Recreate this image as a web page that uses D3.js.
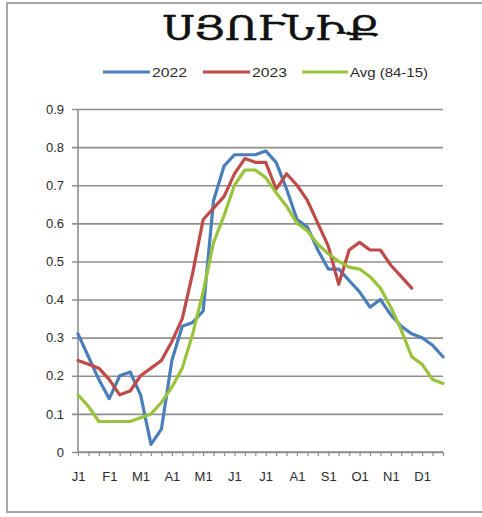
<!DOCTYPE html>
<html>
<head>
<meta charset="utf-8">
<script src="https://cdn.jsdelivr.net/npm/d3@7"></script>
<style>
  html, body { margin: 0; padding: 0; background: #fff; }
  svg { display: block; }
</style>
</head>
<body>
<svg id="chart" width="482" height="517"></svg>
<script>
// ---- data ----
const title = "ՍՅՈՒՆԻՔ";
const seriesNames = ["2022", "2023", "Avg (84-15)"];
const monthLabels = ["J1", "F1", "M1", "A1", "M1", "J1", "J1", "A1", "S1", "O1", "N1", "D1"];
const yTicks = [0, 0.1, 0.2, 0.3, 0.4, 0.5, 0.6, 0.7, 0.8, 0.9];
const values2022 = [0.31,0.25,0.19,0.14,0.20,0.21,0.15,0.02,0.06,0.24,0.33,0.34,0.37,0.66,0.75,0.78,0.78,0.78,0.79,0.76,0.69,0.61,0.59,0.53,0.48,0.48,0.45,0.42,0.38,0.40,0.36,0.33,0.31,0.30,0.28,0.25];
const values2023 = [0.24,0.23,0.22,0.19,0.15,0.16,0.20,0.22,0.24,0.29,0.35,0.47,0.61,0.64,0.67,0.73,0.77,0.76,0.76,0.69,0.73,0.70,0.66,0.60,0.54,0.44,0.53,0.55,0.53,0.53,0.49,0.46,0.43];
const valuesAvg = [0.15,0.12,0.08,0.08,0.08,0.08,0.09,0.10,0.13,0.17,0.22,0.31,0.42,0.55,0.62,0.70,0.74,0.74,0.72,0.68,0.645,0.60,0.58,0.545,0.52,0.50,0.485,0.48,0.46,0.43,0.38,0.32,0.25,0.23,0.19,0.18];
const colors = ["#4a7ebb", "#be4b48", "#98c33a"];

// ---- layout ----
const svg = d3.select("#chart");
const W = 482, H = 517;
const plot = { left: 78, right: 443, top: 109, bottom: 452 };
const nPeriods = values2022.length;

svg.append("rect").attr("width", W).attr("height", H).attr("fill", "#fff");

// outer frame (top, left, bottom)
const frame = svg.append("g").attr("stroke", "#a6a6a6").attr("stroke-width", 2).attr("fill", "none");
frame.append("path").attr("d", `M${W},3 H7 V512 H${W}`);

const x = d3.scaleLinear().domain([0, nPeriods - 1]).range([plot.left, plot.right]);
const y = d3.scaleLinear().domain([0, 0.9]).range([plot.bottom, plot.top]);

const labelFont = "Liberation Sans, Arial, sans-serif";

// gridlines + y axis
const yAxis = d3.axisLeft(y).tickValues(yTicks)
  .tickFormat(d => d === 0 ? "0" : d3.format(".1f")(d))
  .tickSize(-(plot.right - plot.left)).tickPadding(14);
const gy = svg.append("g").attr("transform", `translate(${plot.left},0)`).call(yAxis);
gy.select(".domain").remove();
gy.selectAll(".tick line").attr("stroke", "#8f8f8f").attr("stroke-width", 1.6).attr("x1", -6);
gy.selectAll(".tick text").attr("fill", "#2a2a2a").style("font-family", labelFont).style("font-size", "13px");
svg.append("line").attr("x1", plot.left).attr("x2", plot.left).attr("y1", plot.top).attr("y2", plot.bottom)
  .attr("stroke", "#8f8f8f").attr("stroke-width", 1.6);

// x axis: a tick per period, labels every 3rd
const xAxis = d3.axisBottom(x).tickValues(d3.range(0, nPeriods)).tickSize(4).tickPadding(16)
  .tickFormat(i => i % 3 === 0 ? monthLabels[i / 3] : "");
const gx = svg.append("g").attr("transform", `translate(0,${plot.bottom})`).call(xAxis);
gx.select(".domain").attr("stroke", "#8f8f8f").attr("stroke-width", 1.6).attr("d", `M${plot.left},0H${plot.right}`);
gx.selectAll(".tick line").attr("stroke", "#8f8f8f").attr("stroke-width", 1.2);
gx.selectAll(".tick text").attr("fill", "#2a2a2a").style("font-family", labelFont).style("font-size", "13px");

// lines
const line = d3.line().x((d, i) => x(i)).y(d => y(d));
[values2022, values2023, valuesAvg].forEach((vals, k) => {
  svg.append("path").datum(vals).attr("d", line)
    .attr("fill", "none").attr("stroke", colors[k]).attr("stroke-width", 3.2)
    .attr("stroke-linejoin", "round").attr("stroke-linecap", "round");
});

// title
svg.append("text").attr("x", 271).attr("y", 40).attr("text-anchor", "middle")
  .style("font-family", "DejaVu Serif, serif").style("font-size", "34px").attr("fill", "#111")
  .attr("stroke", "#111").attr("stroke-width", 0.6)
  .attr("textLength", 217).attr("lengthAdjust", "spacingAndGlyphs")
  .text(title);

// legend
const legendItems = [
  { x0: 103, x1: 150, tx: 152, tl: 35 },
  { x0: 203, x1: 250, tx: 252, tl: 35 },
  { x0: 302, x1: 348, tx: 350, tl: 78 }
];
legendItems.forEach((it, k) => {
  svg.append("line").attr("x1", it.x0).attr("x2", it.x1).attr("y1", 72).attr("y2", 72)
    .attr("stroke", colors[k]).attr("stroke-width", 3.2);
  svg.append("text").attr("x", it.tx).attr("y", 77)
    .style("font-family", labelFont).style("font-size", "13px").attr("fill", "#2a2a2a")
    .attr("textLength", it.tl).attr("lengthAdjust", "spacingAndGlyphs")
    .text(seriesNames[k]);
});
</script>
</body>
</html>
